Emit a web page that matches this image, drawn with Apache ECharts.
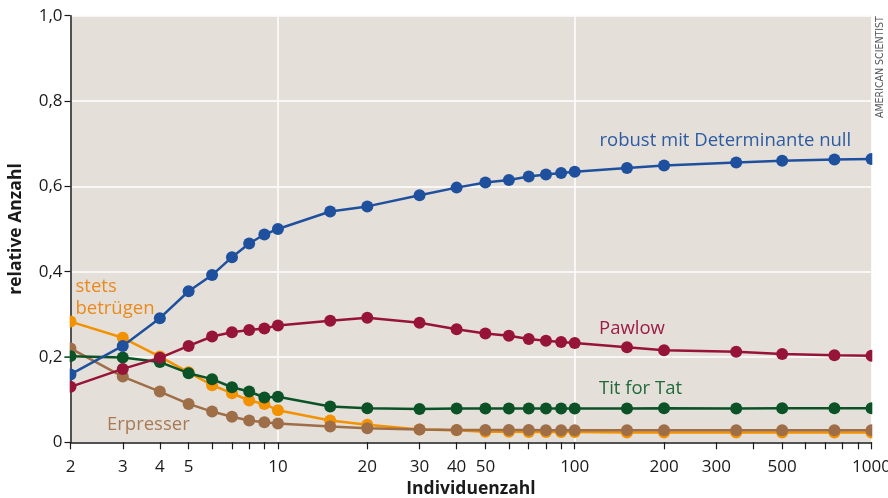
<!DOCTYPE html>
<html>
<head>
<meta charset="utf-8">
<script src="https://cdn.jsdelivr.net/npm/echarts@6/dist/echarts.min.js"></script>
<style>
  html, body { margin: 0; padding: 0; background: #ffffff; }
  #chart { width: 888px; height: 498px; }
</style>
</head>
<body>
<div id="chart"></div>
<script>
// Population size (Individuenzahl), log scale
const individuen = [2, 3, 4, 5, 6, 7, 8, 9, 10, 15, 20, 30, 40, 50, 60, 70, 80, 90, 100, 150, 200, 350, 500, 750, 1000];

// Relative share of each strategy
const robust   = [0.159, 0.226, 0.291, 0.354, 0.392, 0.434, 0.466, 0.487, 0.500, 0.541, 0.553, 0.579, 0.597, 0.609, 0.615, 0.623, 0.628, 0.631, 0.634, 0.643, 0.649, 0.656, 0.660, 0.663, 0.664];
const pawlow   = [0.130, 0.172, 0.198, 0.226, 0.248, 0.258, 0.263, 0.267, 0.274, 0.285, 0.292, 0.280, 0.265, 0.255, 0.250, 0.242, 0.238, 0.235, 0.233, 0.223, 0.216, 0.212, 0.207, 0.204, 0.203];
const titForTat = [0.202, 0.199, 0.188, 0.162, 0.148, 0.129, 0.119, 0.105, 0.107, 0.084, 0.080, 0.078, 0.079, 0.079, 0.079, 0.079, 0.079, 0.079, 0.079, 0.079, 0.080, 0.079, 0.080, 0.080, 0.080];
const betruegen = [0.283, 0.245, 0.201, 0.164, 0.134, 0.115, 0.098, 0.090, 0.075, 0.051, 0.041, 0.030, 0.028, 0.025, 0.025, 0.024, 0.024, 0.024, 0.024, 0.023, 0.023, 0.023, 0.023, 0.023, 0.023];
const erpresser = [0.220, 0.154, 0.119, 0.090, 0.072, 0.060, 0.051, 0.047, 0.044, 0.037, 0.033, 0.030, 0.029, 0.029, 0.029, 0.029, 0.028, 0.028, 0.028, 0.028, 0.028, 0.028, 0.028, 0.028, 0.028];

// Axis ticks
const xTickValues  = [2, 3, 4, 5, 6, 7, 8, 9, 10, 20, 30, 40, 50, 60, 70, 80, 90, 100, 200, 300, 400, 500, 600, 700, 800, 900, 1000];
const xLabelValues = [2, 3, 4, 5, 10, 20, 30, 40, 50, 100, 200, 300, 500, 1000];

const FONT = '"Open Sans", "Noto Sans", sans-serif';
const INK = '#1a1a1a';

function pairs(ys) { return individuen.map((x, i) => [x, ys[i]]); }

function lineSeries(name, ys, color, z) {
  return {
    name: name,
    type: 'line',
    xAxisIndex: 0,
    data: pairs(ys),
    symbol: 'circle',
    symbolSize: 12,
    z: z,
    lineStyle: { color: color, width: 2.5 },
    itemStyle: { color: color },
    emphasis: { disabled: true },
    animation: false
  };
}

function seriesLabel(text, x, baseline, color) {
  return {
    type: 'text', x: x, y: baseline, z: 20,
    style: { text: text, fill: color, font: '18.5px ' + FONT, align: 'left', verticalAlign: 'bottom' }
  };
}

// white masks that trim the end markers to the plotting area
function mask(x, y, w, h) {
  return { type: 'rect', z: 10, silent: true, shape: { x: x, y: y, width: w, height: h }, style: { fill: '#ffffff' } };
}

const chart = echarts.init(document.getElementById('chart'), null, { renderer: 'canvas' });

chart.setOption({
  backgroundColor: '#ffffff',
  animation: false,
  grid: {
    left: 70.5, right: 16.5, top: 15.7, bottom: 55.7,
    outerBoundsMode: 'none', containLabel: false,
    show: true, backgroundColor: '#e5dfd9', borderWidth: 0
  },
  xAxis: [
    {
      type: 'log',
      logBase: 10,
      min: 2,
      max: 1000,
      position: 'bottom',
      name: 'Individuenzahl',
      nameLocation: 'middle',
      nameGap: 37.5,
      nameTextStyle: { fontFamily: FONT, fontSize: 17.5, fontWeight: 'bold', color: INK },
      axisLine: { show: true, lineStyle: { color: INK, width: 1.5 } },
      axisTick: { show: true, inside: false, length: 7, customValues: xTickValues, lineStyle: { color: INK, width: 1.2 } },
      axisLabel: { customValues: xLabelValues, fontFamily: FONT, fontSize: 17, color: INK, margin: 16, formatter: v => String(Math.round(v)) },
      splitLine: { show: false }
    },
    {
      // decade grid lines only
      type: 'log',
      logBase: 10,
      min: 2,
      max: 1000,
      position: 'top',
      axisLine: { show: false },
      axisTick: { show: false },
      axisLabel: { show: false },
      splitLine: { show: true, lineStyle: { color: '#ffffff', width: 1.5 } }
    }
  ],
  yAxis: {
    type: 'value',
    min: 0,
    max: 1,
    interval: 0.2,
    name: 'relative Anzahl',
    nameLocation: 'middle',
    nameGap: 45,
    nameRotate: 90,
    nameTextStyle: { fontFamily: FONT, fontSize: 17.5, fontWeight: 'bold', color: INK },
    axisLine: { show: true, lineStyle: { color: INK, width: 1.5 } },
    axisTick: { show: true, inside: false, length: 6, lineStyle: { color: INK, width: 1.2 } },
    axisLabel: {
      fontFamily: FONT, fontSize: 17, color: INK, margin: 8,
      formatter: v => v === 0 ? '0' : v.toFixed(1).replace('.', ',')
    },
    splitLine: { show: true, lineStyle: { color: '#ffffff', width: 1.5 } }
  },
  series: [
    lineSeries('stets betrügen', betruegen, '#f39200', 2),
    lineSeries('Erpresser', erpresser, '#9e6e48', 3),
    lineSeries('Tit for Tat', titForTat, '#0b5327', 4),
    lineSeries('robust mit Determinante null', robust, '#1f509d', 5),
    lineSeries('Pawlow', pawlow, '#971439', 6)
  ],
  graphic: [
    mask(63.5, 312, 6.2, 44.3),
    mask(63.5, 357.9, 6.2, 37),
    mask(872.3, 140, 9, 301),
    seriesLabel('robust mit Determinante null', 599.5, 150, '#2b5ba3'),
    seriesLabel('Pawlow', 599, 338.5, '#9b1d47'),
    seriesLabel('Tit for Tat', 599, 398, '#1f6a3b'),
    seriesLabel('stets', 75.5, 296, '#ea8a1c'),
    seriesLabel('betrügen', 75.5, 318, '#ea8a1c'),
    seriesLabel('Erpresser', 107, 434.5, '#a77a55'),
    {
      type: 'text', x: 880, y: 118, rotation: Math.PI / 2, z: 20,
      style: { text: 'AMERICAN SCIENTIST', fill: '#555555', font: '10.5px "Liberation Sans Narrow", "DejaVu Sans Condensed", sans-serif', align: 'left', verticalAlign: 'middle' }
    }
  ]
});
</script>
</body>
</html>
